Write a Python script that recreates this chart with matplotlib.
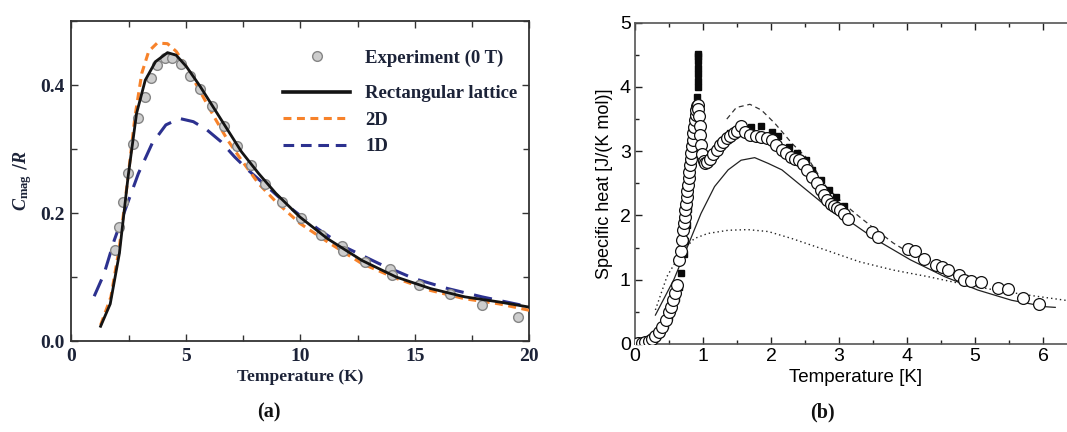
import matplotlib
matplotlib.use("Agg")
import matplotlib.pyplot as plt
from matplotlib.ticker import MultipleLocator
from matplotlib.lines import Line2D

plt.rcParams["mathtext.fontset"] = "custom"
plt.rcParams["mathtext.it"] = "Liberation Serif:italic:bold"
plt.rcParams["mathtext.rm"] = "Liberation Serif:bold"

# ---------------- panel (a): C_mag / R ----------------
exp_T = [1.91, 2.10, 2.25, 2.48, 2.70, 2.93, 3.20, 3.47, 3.75, 4.07, 4.40, 4.77,
         5.18, 5.63, 6.13, 6.65, 7.22, 7.84, 8.48, 9.20, 10.03, 10.89, 11.80,
         11.85, 12.84, 13.90, 14.00, 15.17, 16.52, 17.94, 19.52]
exp_C = [0.143, 0.178, 0.218, 0.263, 0.308, 0.348, 0.382, 0.412, 0.432, 0.442,
         0.442, 0.433, 0.415, 0.394, 0.367, 0.337, 0.305, 0.275, 0.246, 0.218,
         0.193, 0.166, 0.148, 0.141, 0.124, 0.112, 0.104, 0.087, 0.073, 0.056, 0.038]

rect_T = [1.28, 1.70, 2.10, 2.48, 2.85, 3.23, 3.68, 4.20, 4.58, 5.03, 5.63, 6.23,
          6.83, 7.43, 8.18, 8.93, 9.98, 11.19, 12.69, 14.19, 15.69, 17.19, 18.69, 20.0]
rect_C = [0.023, 0.058, 0.137, 0.257, 0.356, 0.408, 0.437, 0.451, 0.447, 0.429,
          0.398, 0.364, 0.330, 0.296, 0.262, 0.231, 0.194, 0.160, 0.126, 0.100,
          0.082, 0.069, 0.061, 0.053]

d2_T = [1.28, 1.73, 2.10, 2.48, 2.78, 3.08, 3.38, 3.75, 4.20, 4.58, 5.03, 5.63,
        6.23, 6.83, 7.43, 8.18, 8.93, 9.98, 11.19, 12.69, 14.19, 15.69, 17.19,
        18.69, 20.0]
d2_C = [0.025, 0.069, 0.147, 0.257, 0.351, 0.419, 0.453, 0.466, 0.465, 0.453,
        0.429, 0.390, 0.351, 0.314, 0.283, 0.246, 0.218, 0.184, 0.155, 0.121,
        0.098, 0.079, 0.066, 0.058, 0.048]

d1_T = [1.00, 1.43, 1.88, 2.40, 2.93, 3.53, 4.13, 4.73, 5.33, 5.93, 6.53, 7.13,
        7.73, 8.63, 9.68, 10.74, 11.94, 13.44, 14.94, 16.44, 17.94, 19.67]
d1_C = [0.070, 0.105, 0.158, 0.210, 0.262, 0.309, 0.338, 0.348, 0.343, 0.330,
        0.312, 0.288, 0.267, 0.239, 0.205, 0.176, 0.147, 0.121, 0.098, 0.082,
        0.069, 0.056]

# ---------------- panel (b): specific heat ----------------
circ_T = [0.05, 0.10, 0.15, 0.20, 0.25, 0.30, 0.35, 0.40, 0.45, 0.50, 0.53, 0.56,
          0.59, 0.62, 0.65, 0.67, 0.69, 0.71, 0.72, 0.73, 0.74, 0.75, 0.76, 0.77,
          0.78, 0.79, 0.80, 0.81, 0.82, 0.83, 0.84, 0.85, 0.86, 0.87, 0.88, 0.89,
          0.90, 0.91, 0.92, 0.93, 0.94, 0.95, 0.96, 0.97, 0.99, 1.01, 1.03, 1.06,
          1.10, 1.15, 1.20, 1.25, 1.30, 1.35, 1.40, 1.45, 1.50, 1.56, 1.62, 1.69,
          1.78, 1.86, 1.94, 2.01, 2.08, 2.16, 2.22, 2.29, 2.35, 2.41, 2.47, 2.53,
          2.61, 2.67, 2.73, 2.78, 2.83, 2.88, 2.93, 2.97, 3.01, 3.08, 3.13, 3.48,
          3.58, 4.02, 4.12, 4.25, 4.42, 4.52, 4.60, 4.77, 4.84, 4.94, 5.09, 5.34,
          5.48, 5.71, 5.94]
circ_C = [0.02, 0.02, 0.03, 0.05, 0.08, 0.12, 0.18, 0.27, 0.38, 0.50, 0.58, 0.68,
          0.80, 0.92, 1.30, 1.45, 1.62, 1.78, 1.88, 1.98, 2.08, 2.18, 2.28, 2.38,
          2.48, 2.58, 2.68, 2.78, 2.88, 2.98, 3.08, 3.18, 3.28, 3.38, 3.48, 3.57,
          3.64, 3.70, 3.72, 3.66, 3.55, 3.40, 3.25, 3.10, 2.95, 2.85, 2.82, 2.84,
          2.88, 2.95, 3.02, 3.09, 3.15, 3.20, 3.24, 3.28, 3.31, 3.39, 3.30, 3.25,
          3.24, 3.22, 3.20, 3.17, 3.10, 3.02, 2.97, 2.91, 2.88, 2.86, 2.80, 2.71,
          2.60, 2.50, 2.40, 2.32, 2.24, 2.18, 2.14, 2.11, 2.09, 2.03, 1.94, 1.75,
          1.67, 1.48, 1.44, 1.32, 1.23, 1.20, 1.15, 1.07, 1.00, 0.98, 0.97, 0.87,
          0.85, 0.71, 0.62]

sq_T = [0.37, 0.44, 0.50, 0.55, 0.60, 0.64, 0.68, 0.72, 0.74, 0.76, 0.78, 0.80,
        0.82, 0.84, 0.86, 0.88, 0.89, 0.90, 0.91, 0.92, 0.92, 0.92, 0.92, 0.92,
        0.92, 0.92, 0.95, 0.97, 1.00, 1.05, 1.10, 1.20, 1.30, 1.40, 1.50, 1.60,
        1.70, 1.86, 2.01, 2.11, 2.26, 2.38, 2.51, 2.61, 2.73, 2.86, 2.96, 3.08]
sq_C = [0.17, 0.30, 0.42, 0.55, 0.72, 0.88, 1.10, 1.40, 1.60, 1.85, 2.10, 2.35,
        2.60, 2.85, 3.10, 3.35, 3.55, 3.70, 3.85, 4.00, 4.10, 4.20, 4.30, 4.40,
        4.48, 4.52, 3.30, 3.00, 2.90, 2.86, 2.92, 3.05, 3.18, 3.28, 3.33, 3.35,
        3.37, 3.39, 3.30, 3.23, 3.07, 2.97, 2.86, 2.71, 2.55, 2.40, 2.29, 2.14]

solid_T = [0.30, 0.57, 0.77, 0.97, 1.17, 1.37, 1.56, 1.76, 1.96, 2.16, 2.46, 2.76,
           3.06, 3.55, 4.05, 4.55, 5.04, 5.54, 6.04, 6.18]
solid_C = [0.45, 1.00, 1.51, 2.03, 2.45, 2.71, 2.86, 2.90, 2.81, 2.71, 2.45, 2.19,
           1.98, 1.62, 1.31, 1.05, 0.84, 0.68, 0.58, 0.57]

dash_T = [1.35, 1.49, 1.69, 1.86, 2.06, 2.31, 2.56, 2.81, 3.06, 3.30, 3.55, 3.80, 4.05]
dash_C = [3.50, 3.68, 3.73, 3.64, 3.43, 3.12, 2.86, 2.45, 2.19, 1.98, 1.77, 1.57, 1.41]

dot_T = [0.30, 0.47, 0.67, 0.87, 1.07, 1.37, 1.66, 1.96, 2.31, 2.81, 3.30, 3.80,
         4.30, 4.79, 5.29, 5.79, 6.40]
dot_C = [0.53, 1.05, 1.41, 1.64, 1.72, 1.77, 1.78, 1.75, 1.64, 1.46, 1.28, 1.15,
         1.05, 0.94, 0.84, 0.76, 0.67]

W, H = 1067, 432
fig = plt.figure(figsize=(W / 100, H / 100), dpi=100)

# ---- panel (a)
navy = "#1c2338"
serif = "Liberation Serif"
axa = fig.add_axes([71.3 / W, 1 - 341 / H, 458 / W, 319.7 / H])
orange = "#f7822a"
blue = "#2c318f"
axa.plot(d1_T, d1_C, color=blue, lw=2.2, dashes=(6, 3.5), zorder=2)
axa.plot(d2_T, d2_C, color=orange, lw=2.2, dashes=(2.6, 1.8), zorder=3)
axa.plot(exp_T, exp_C, "o", ms=7, mfc="#cdcdcd", mec="#858585", mew=1.0, zorder=4)
axa.plot(rect_T, rect_C, color="#141414", lw=2.0, zorder=5)
axa.set_xlim(0, 20)
axa.set_ylim(0, 0.5)
axa.xaxis.set_major_locator(MultipleLocator(5))
axa.xaxis.set_minor_locator(MultipleLocator(2.5))
axa.yaxis.set_major_locator(MultipleLocator(0.2))
axa.yaxis.set_minor_locator(MultipleLocator(0.1))
axa.tick_params(which="both", direction="in", top=True, right=True,
                color="#333333", width=1.0)
axa.tick_params(which="major", length=5, labelsize=14, labelcolor=navy)
axa.tick_params(axis="x", which="major", pad=5)
axa.tick_params(axis="y", which="major", pad=5)
axa.tick_params(which="minor", length=4)
axa.set_yticks([0.0, 0.2, 0.4])
axa.set_yticklabels(["0.0", "0.2", "0.4"])
for lab in axa.get_xticklabels() + axa.get_yticklabels():
    lab.set_fontfamily(serif)
    lab.set_fontweight("bold")
for s in axa.spines.values():
    s.set_color("#333333")
    s.set_linewidth(1.3)
axa.set_xlabel("Temperature (K)", fontfamily=serif, fontweight="bold",
               fontsize=12.5, color=navy, labelpad=3)
axa.set_ylabel(r"$C_{\mathrm{mag}}$ /$R$", fontsize=13, color=navy, labelpad=4)

leg_font = {"family": serif, "weight": "bold", "size": 13.5}
exp_handle = [Line2D([], [], ls="none", marker="o", ms=7, mfc="#cdcdcd", mec="#858585")]
leg1 = axa.legend(exp_handle, ["Experiment (0 T)"], loc="center left",
                  bbox_to_anchor=(0.462, 0.885), frameon=False, borderpad=0,
                  borderaxespad=0, handlelength=3.6, handletextpad=0.8,
                  prop=leg_font, labelcolor=navy)
line_handles = [
    Line2D([], [], color="#141414", lw=2.6),
    Line2D([], [], color=orange, lw=2.2, dashes=(2.6, 1.8)),
    Line2D([], [], color=blue, lw=2.2, dashes=(3.5, 2.2)),
]
axa.legend(line_handles, ["Rectangular lattice", "2D", "1D"], loc="center left",
           bbox_to_anchor=(0.462, 0.691), frameon=False, borderpad=0,
           borderaxespad=0, handlelength=3.6, handletextpad=0.8,
           labelspacing=0.5, prop=leg_font, labelcolor=navy)
axa.add_artist(leg1)

fig.text(269 / W, 1 - 412 / H, "(a)", fontfamily=serif, fontweight="bold",
         fontsize=14.5, ha="center", va="center", color="#111111")

# ---- panel (b)
sans = "Liberation Sans"
axb = fig.add_axes([635 / W, 1 - 344 / H, 6.5 * 68 / W, 321.3 / H])
axb.plot(dot_T, dot_C, color="#222222", lw=1.0, ls=(0, (1, 2.2)), zorder=2)
axb.plot(solid_T, solid_C, color="#222222", lw=0.9, zorder=2)
axb.plot(dash_T, dash_C, color="#333333", lw=0.9, ls=(0, (4, 3)), zorder=2)
axb.plot(sq_T, sq_C, "s", ms=4.2, color="#0a0a0a", zorder=3)
axb.plot(circ_T, circ_C, "o", ms=8.5, mfc="white", mec="#111111", mew=0.9,
         zorder=4)
axb.set_xlim(0, 6.5)
axb.set_ylim(0, 5)
axb.xaxis.set_major_locator(MultipleLocator(1))
axb.xaxis.set_minor_locator(MultipleLocator(0.5))
axb.yaxis.set_major_locator(MultipleLocator(1))
axb.yaxis.set_minor_locator(MultipleLocator(0.5))
axb.tick_params(which="both", direction="in", top=True, right=False,
                color="#222222", width=1.0)
axb.tick_params(which="major", length=5, pad=3, labelsize=14)
axb.tick_params(which="minor", length=3)
for lab in axb.get_xticklabels() + axb.get_yticklabels():
    lab.set_fontfamily(sans)
for s in axb.spines.values():
    s.set_color("#555555")
    s.set_linewidth(1.2)
axb.set_xlabel("Temperature [K]", fontfamily=sans, fontsize=13.5, labelpad=3)
axb.set_ylabel("Specific heat [J/(K mol)]", fontfamily=sans, fontsize=13, labelpad=5)

fig.text(822 / W, 1 - 412 / H, "(b)", fontfamily=serif, fontweight="bold",
         fontsize=14.5, ha="center", va="center", color="#111111")

fig.savefig("out.png", dpi=100)
